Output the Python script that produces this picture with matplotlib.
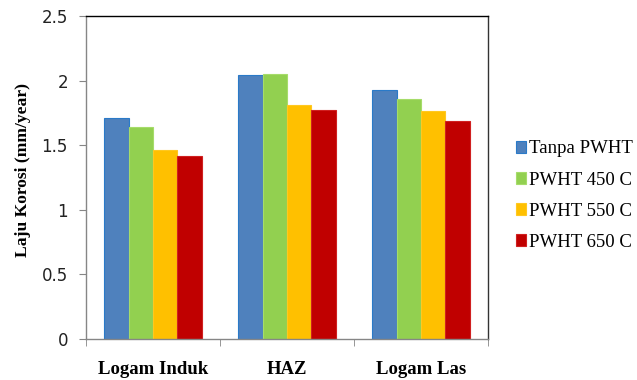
import matplotlib
matplotlib.use("Agg")
import matplotlib.pyplot as plt
import numpy as np

categories = ["Logam Induk", "HAZ", "Logam Las"]
series_names = ["Tanpa PWHT", "PWHT 450 C", "PWHT 550 C", "PWHT 650 C"]
tanpa_pwht = [1.71, 2.04, 1.93]
pwht_450 = [1.64, 2.05, 1.855]
pwht_550 = [1.46, 1.81, 1.765]
pwht_650 = [1.42, 1.775, 1.69]
y_ticks = [0, 0.5, 1, 1.5, 2, 2.5]
y_tick_labels = ["0", "0.5", "1", "1.5", "2", "2.5"]

values = [tanpa_pwht, pwht_450, pwht_550, pwht_650]
colors = ["#4F81BD", "#92D050", "#FFC000", "#C00000"]
edges = ["#2A7AC8", "#A6DC6A", "#FFC820", "#D02020"]

fig = plt.figure(figsize=(6.37, 3.80), dpi=100)
ax = fig.add_axes([86 / 637, 1 - 339 / 380, (488 - 86) / 637, (339 - 16) / 380])

x = np.arange(len(categories))
width = 0.181
offsets = (np.arange(4) - 1.5) * width
for vals, off, c, ec, name in zip(values, offsets, colors, edges, series_names):
    ax.bar(x + off, vals, width=width, color=c, edgecolor=ec, linewidth=0.8,
           label=name, zorder=2)

ax.set_xlim(-0.5, 2.5)
ax.set_ylim(0, 2.5)
ax.set_yticks(y_ticks)
ax.set_yticklabels(y_tick_labels, fontsize=12, family="DejaVu Sans", color="#222222")
ax.tick_params(axis="y", direction="out", length=5, color="#868686", pad=8)

ax.set_xticks(x)
ax.set_xticklabels(categories, fontsize=13.5, family="Liberation Serif",
                   fontweight="bold")
ax.tick_params(axis="x", which="major", length=0, pad=16)
ax.set_xticks([-0.5, 0.5, 1.5, 2.5], minor=True)
ax.tick_params(axis="x", which="minor", direction="out", length=5, color="#868686")

ax.spines["left"].set_color("#868686")
ax.spines["bottom"].set_color("#868686")
ax.spines["top"].set_color("#000000")
ax.spines["right"].set_color("#333333")
for s in ax.spines.values():
    s.set_linewidth(1.0)

ax.set_ylabel("Laju Korosi (mm/year)", fontsize=12.6, family="Liberation Serif",
              fontweight="bold")
ax.yaxis.set_label_coords(31 / 637, 1 - 170 / 380, transform=fig.transFigure)

leg = ax.legend(loc="center left", bbox_to_anchor=(1.05, 0.444),
                frameon=False, prop={"family": "Liberation Serif", "size": 13.5},
                handlelength=0.56, handleheight=0.56, handletextpad=0.16,
                labelspacing=0.75, borderaxespad=0)

fig.savefig("out.png", dpi=100)
